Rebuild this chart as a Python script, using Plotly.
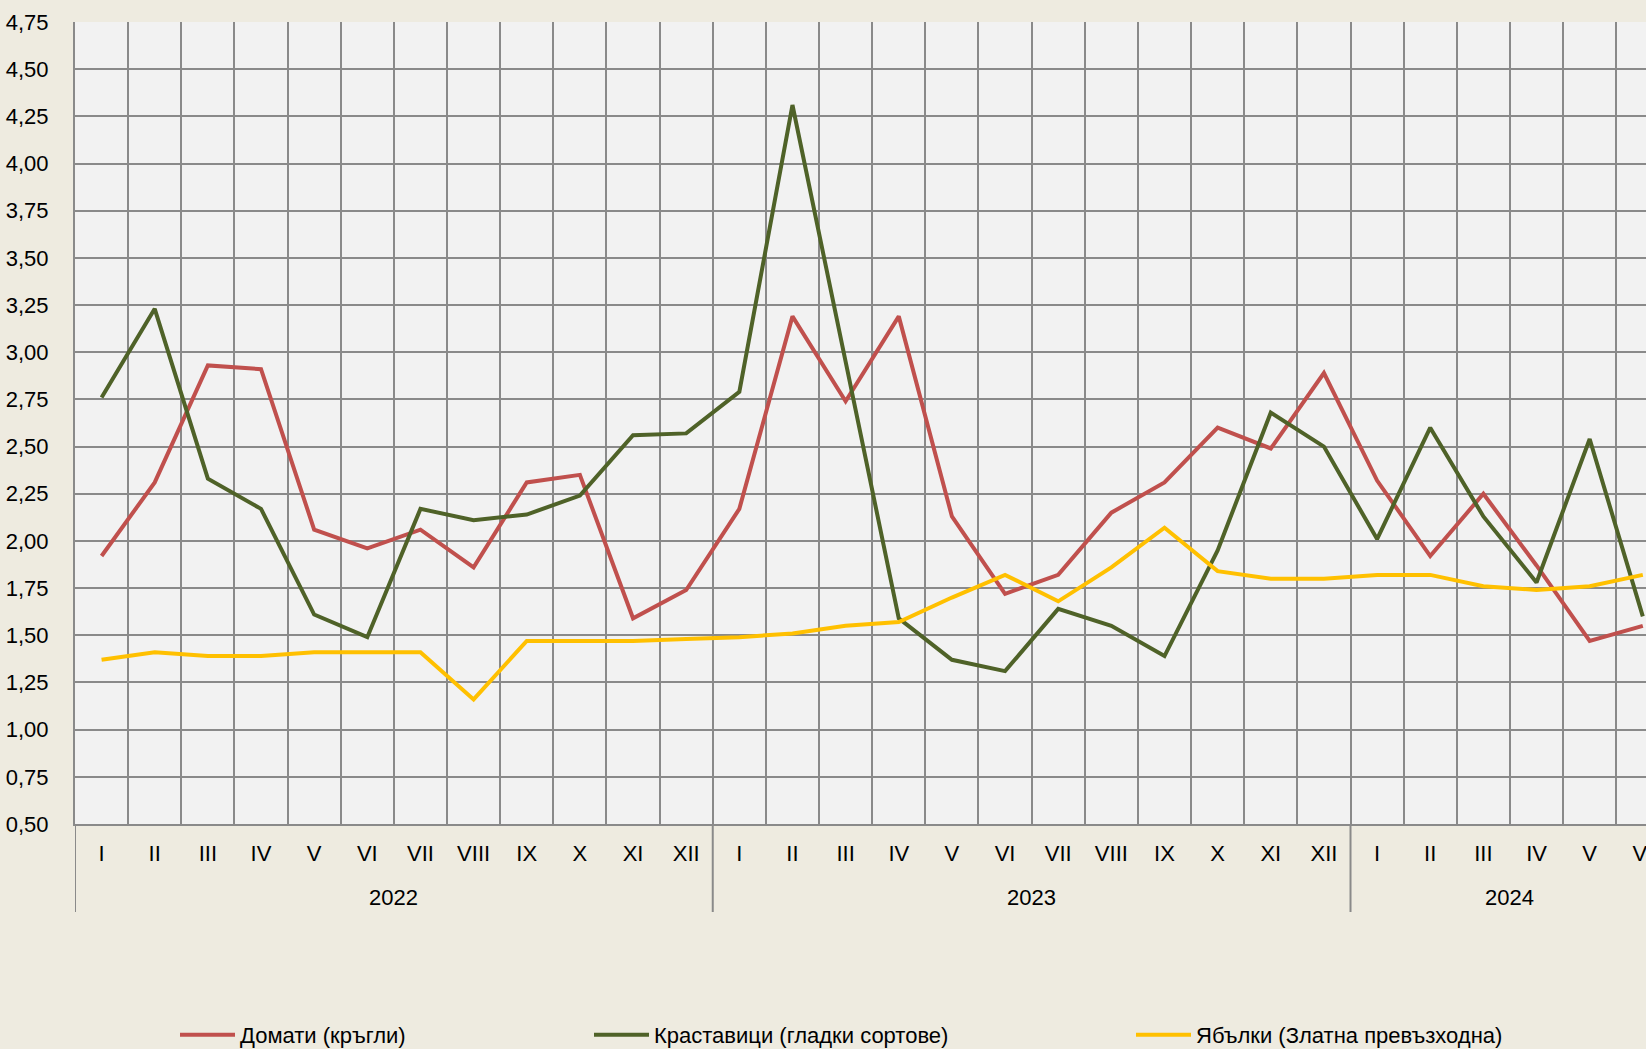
import plotly.graph_objects as go

# ---- data ----
months = ["I", "II", "III", "IV", "V", "VI", "VII", "VIII", "IX", "X", "XI", "XII",
          "I", "II", "III", "IV", "V", "VI", "VII", "VIII", "IX", "X", "XI", "XII",
          "I", "II", "III", "IV", "V", "VI"]
years = ["2022"] * 12 + ["2023"] * 12 + ["2024"] * 6

tomatoes = [1.92, 2.31, 2.93, 2.91, 2.06, 1.96, 2.06, 1.86, 2.31, 2.35, 1.59, 1.74,
            2.17, 3.19, 2.74, 3.19, 2.13, 1.72, 1.82, 2.15, 2.31, 2.60, 2.49, 2.89,
            2.32, 1.92, 2.25, 1.87, 1.47, 1.55]
cucumbers = [2.76, 3.23, 2.33, 2.17, 1.61, 1.49, 2.17, 2.11, 2.14, 2.24, 2.56, 2.57,
             2.79, 4.31, 2.95, 1.59, 1.37, 1.31, 1.64, 1.55, 1.39, 1.95, 2.68, 2.50,
             2.01, 2.60, 2.13, 1.78, 2.54, 1.60]
apples = [1.37, 1.41, 1.39, 1.39, 1.41, 1.41, 1.41, 1.16, 1.47, 1.47, 1.47, 1.48,
          1.49, 1.51, 1.55, 1.57, 1.70, 1.82, 1.68, 1.86, 2.07, 1.84, 1.80, 1.80,
          1.82, 1.82, 1.76, 1.74, 1.76, 1.82]

series_names = ["Домати (кръгли)", "Краставици (гладки сортове)", "Ябълки (Златна превъзходна)"]
series_colors = ["#C0504D", "#4F6228", "#FFC000"]
series_values = [tomatoes, cucumbers, apples]

y_ticks = [0.50 + 0.25 * i for i in range(18)]

# ---- styling ----
FONT = "Liberation Sans, Arial, sans-serif"
FS = 22
GRID = "#8a8a8a"
W, H = 1646, 1049
ML, MT, MB, MR = 75, 22, 225, 0
plot_h = H - MT - MB
plot_w = W - ML - MR
bottom_px = H - MB

x = list(range(len(months)))

fig = go.Figure()
legend_px = [180, 594, 1136]
legend_x = [(p - 5 - ML) / plot_w for p in legend_px]
legend_keys = ["legend", "legend2", "legend3"]
for name, col, vals, lk in zip(series_names, series_colors, series_values, legend_keys):
    fig.add_trace(go.Scatter(x=x, y=vals, mode="lines", name=name, showlegend=True,
                             line=dict(color=col, width=4), legend=lk))

# year groups
shapes = []
annotations = []
groups = []
for i, yv in enumerate(years):
    if not groups or groups[-1][0] != yv:
        groups.append([yv, i, i])
    else:
        groups[-1][2] = i
div_bottom = -(912 - bottom_px) / plot_h
year_y = -(898 - bottom_px) / plot_h
for yv, s, e in groups:
    shapes.append(dict(type="line", xref="x", yref="paper", x0=s - 0.5, x1=s - 0.5,
                       y0=0, y1=div_bottom, line=dict(color=GRID, width=2)))
    annotations.append(dict(text=yv, xref="x", yref="paper", x=(s + e) / 2, y=year_y,
                            showarrow=False, yanchor="middle",
                            font=dict(family=FONT, size=FS, color="#000000")))

leg_y = -(1035 - bottom_px) / plot_h
legend_common = dict(orientation="h", yanchor="middle", xanchor="left", y=leg_y,
                     bgcolor="rgba(0,0,0,0)", font=dict(family=FONT, size=FS, color="#000000"),
                     itemwidth=55)

fig.update_layout(
    width=W, height=H,
    margin=dict(l=ML, r=MR, t=MT, b=MB, pad=0, autoexpand=False),
    paper_bgcolor="#EEEBE0",
    plot_bgcolor="#F2F2F2",
    separators=", ",
    showlegend=True,
    font=dict(family=FONT, size=FS, color="#000000"),
    xaxis=dict(range=[-0.5, 29.06], tickmode="array", tickvals=x, ticktext=months,
               showgrid=False, zeroline=False, showline=True, linecolor=GRID, linewidth=2,
               ticks="", ticklabelstandoff=9, ticklabeloverflow="allow",
               tickfont=dict(family=FONT, size=FS)),
    yaxis=dict(range=[0.5, 4.75], tickmode="array", tickvals=y_ticks,
               tickformat=".2f", showgrid=True, gridcolor=GRID, gridwidth=2,
               zeroline=False, showline=True, linecolor=GRID, linewidth=2,
               ticks="", ticklabelstandoff=20, tickfont=dict(family=FONT, size=FS)),
    shapes=shapes,
    annotations=annotations,
    legend=dict(x=legend_x[0], **legend_common),
    legend2=dict(x=legend_x[1], **legend_common),
    legend3=dict(x=legend_x[2], **legend_common),
)
fig.update_xaxes(minor=dict(tickmode="array", tickvals=[i - 0.5 for i in range(len(x) + 1)],
                            showgrid=True, gridcolor=GRID, gridwidth=2, ticks=""))

fig.write_html("out.html", config={"displayModeBar": False},
               post_script="document.body.style.margin='0px';document.body.style.padding='0px';")
